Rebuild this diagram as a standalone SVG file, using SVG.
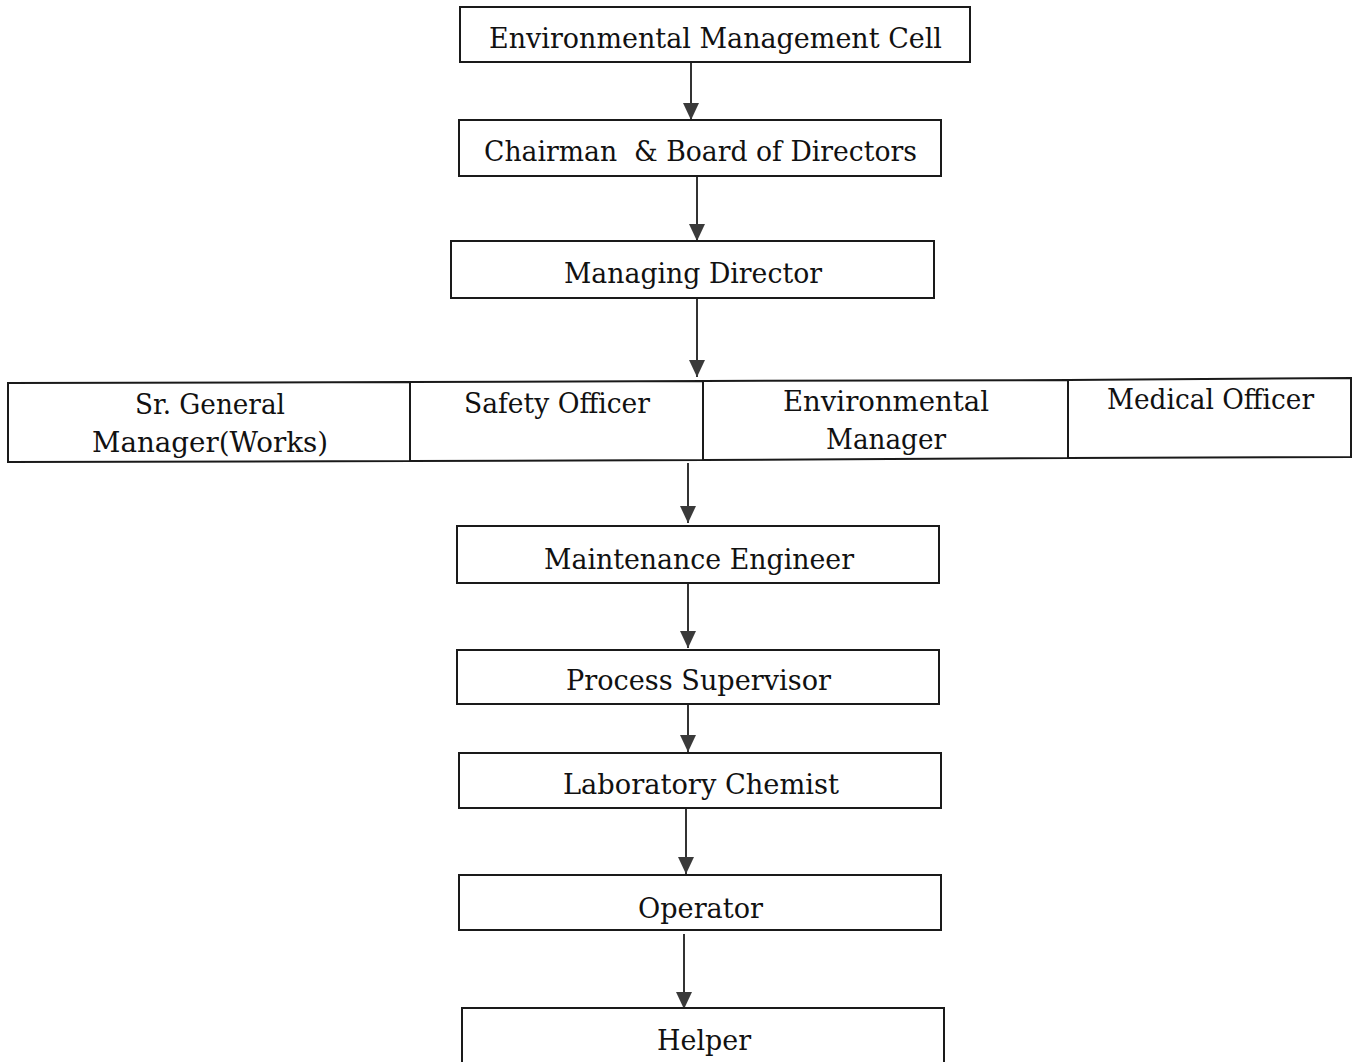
<svg xmlns="http://www.w3.org/2000/svg" width="1353" height="1062" viewBox="0 0 1353 1062">
<defs>
<style>
.box{fill:#fff;stroke:#1a1a1a;stroke-width:2}
.t{font-family:"DejaVu Serif","Liberation Serif",serif;font-size:28px;fill:#111}
.c{stroke:#333;stroke-width:2;fill:none}
</style>
<marker id="dn" viewBox="0 0 16 17" refX="8" refY="17" markerWidth="16" markerHeight="17" markerUnits="userSpaceOnUse" orient="0">
<path d="M0,0 L16,0 L8,17 Z" fill="#3a3a3a"/>
</marker>
</defs>
<rect width="1353" height="1062" fill="#fff"/>
<g id="connectors">
<line class="c" x1="691" y1="63" x2="691" y2="120" marker-end="url(#dn)"/>
<line class="c" x1="697" y1="177" x2="697" y2="241" marker-end="url(#dn)"/>
<line class="c" x1="697" y1="298" x2="697" y2="377" marker-end="url(#dn)"/>
<line class="c" x1="688" y1="463" x2="688" y2="523" marker-end="url(#dn)"/>
<line class="c" x1="688" y1="584" x2="688" y2="648" marker-end="url(#dn)"/>
<line class="c" x1="688" y1="705" x2="688" y2="752" marker-end="url(#dn)"/>
<line class="c" x1="686" y1="809" x2="686" y2="874" marker-end="url(#dn)"/>
<line class="c" x1="684" y1="934" x2="684" y2="1009" marker-end="url(#dn)"/>
</g>
<g id="n1"><rect class="box" x="460" y="7" width="510" height="55"/><text class="t" x="489" y="48" textLength="453" lengthAdjust="spacingAndGlyphs">Environmental Management Cell</text></g>
<g id="n2"><rect class="box" x="459" y="120" width="482" height="56"/><text class="t" x="484" y="161" textLength="433" lengthAdjust="spacingAndGlyphs" xml:space="preserve">Chairman  &amp; Board of Directors</text></g>
<g id="n3"><rect class="box" x="451" y="241" width="483" height="57"/><text class="t" x="564" y="283" textLength="258" lengthAdjust="spacingAndGlyphs">Managing Director</text></g>
<g id="n4"><path class="box" d="M8,383 L410,382 L410,461 L8,462 Z"/><text class="t" x="135" y="414" textLength="150" lengthAdjust="spacingAndGlyphs">Sr. General</text><text class="t" x="92" y="452" textLength="236" lengthAdjust="spacingAndGlyphs">Manager(Works)</text></g>
<g id="n5"><path class="box" d="M410,382 L703,381 L703,460 L410,461 Z"/><text class="t" x="464" y="413" textLength="186" lengthAdjust="spacingAndGlyphs">Safety Officer</text></g>
<g id="n6"><path class="box" d="M703,381 L1068,380 L1068,458 L703,460 Z"/><text class="t" x="783" y="411" textLength="206" lengthAdjust="spacingAndGlyphs">Environmental</text><text class="t" x="826" y="449" textLength="120" lengthAdjust="spacingAndGlyphs">Manager</text></g>
<g id="n7"><path class="box" d="M1068,380 L1351,378 L1351,457 L1068,458 Z"/><text class="t" x="1107" y="409" textLength="207" lengthAdjust="spacingAndGlyphs">Medical Officer</text></g>
<g id="n8"><rect class="box" x="457" y="526" width="482" height="57"/><text class="t" x="544" y="569" textLength="310" lengthAdjust="spacingAndGlyphs">Maintenance Engineer</text></g>
<g id="n9"><rect class="box" x="457" y="650" width="482" height="54"/><text class="t" x="566" y="690" textLength="265" lengthAdjust="spacingAndGlyphs">Process Supervisor</text></g>
<g id="n10"><rect class="box" x="459" y="753" width="482" height="55"/><text class="t" x="563" y="794" textLength="276" lengthAdjust="spacingAndGlyphs">Laboratory Chemist</text></g>
<g id="n11"><rect class="box" x="459" y="875" width="482" height="55"/><text class="t" x="638" y="918" textLength="125" lengthAdjust="spacingAndGlyphs">Operator</text></g>
<g id="n12"><rect class="box" x="462" y="1008" width="482" height="60"/><text class="t" x="657" y="1050" textLength="94" lengthAdjust="spacingAndGlyphs">Helper</text></g>
</svg>
